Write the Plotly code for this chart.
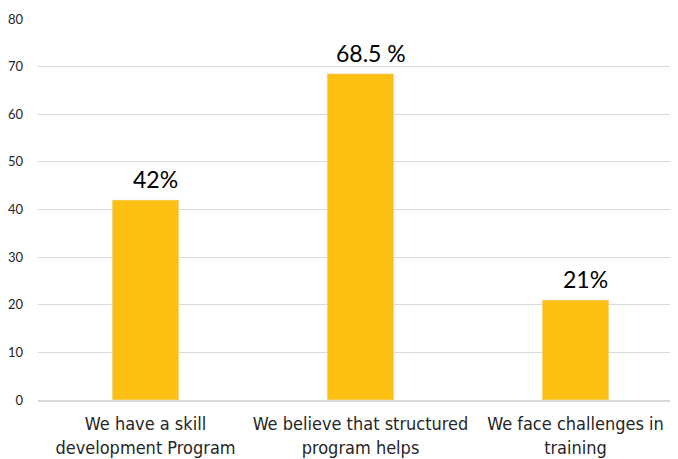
import plotly.graph_objects as go

categories = ["We have a skill<br>development Program",
              "We believe that structured<br>program helps",
              "We face challenges in<br>training"]
values = [42, 68.5, 21]
value_labels = ["42%", "68.5 %", "21%"]

BAR = "#FCBF12"
FONT = "DejaVu Sans Condensed, Liberation Sans Narrow, Lato, sans-serif"
VFONT = "Lato, sans-serif"

fig = go.Figure()
fig.add_trace(go.Bar(x=categories, y=values, marker_color=BAR, width=0.31,
                     hoverinfo="skip"))
for c, v, t in zip(categories, values, value_labels):
    fig.add_annotation(x=c, y=v, text=t, showarrow=False, yanchor="bottom",
                       xshift=10, yshift=5,
                       font=dict(family=VFONT, size=23, color="#000000"))

fig.update_layout(
    width=678, height=459,
    margin=dict(l=30, r=3, t=11, b=67),
    paper_bgcolor="white", plot_bgcolor="white",
    showlegend=False,
    font=dict(family=FONT),
)
fig.update_yaxes(range=[0, 80], dtick=10, showgrid=True, gridcolor="#D9D9D9",
                 gridwidth=1, zeroline=False, showline=False, automargin=False,
                 tickfont=dict(family=VFONT, size=13, color="#262626"),
                 ticklabelstandoff=14)
fig.update_xaxes(showline=True, linecolor="#D9D9D9", linewidth=1.5,
                 automargin=False,
                 tickfont=dict(family=FONT, size=18, color="#262626"),
                 ticks="", ticklabelstandoff=7)

fig.write_html("out.html")
